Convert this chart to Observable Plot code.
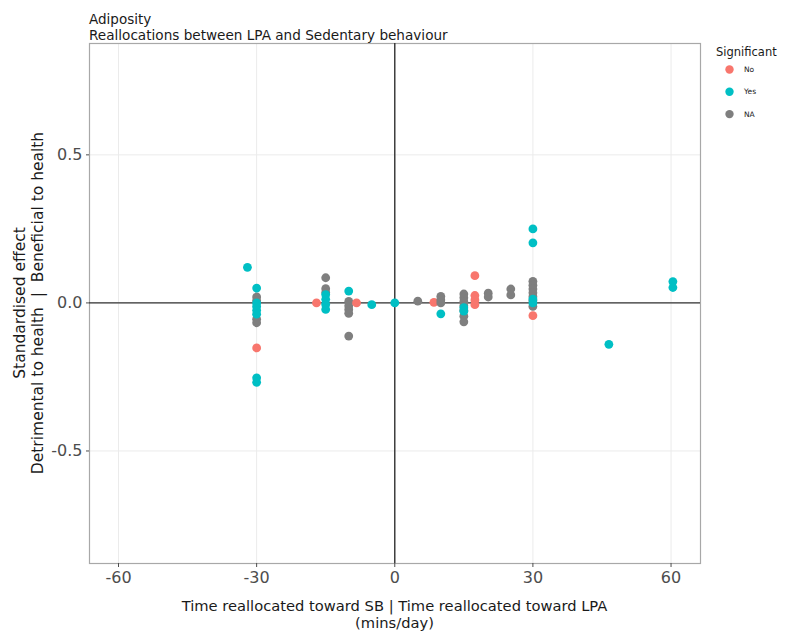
<!DOCTYPE html>
<html>
<head>
<meta charset="utf-8">
<script src="https://cdn.jsdelivr.net/npm/d3@7"></script>
<script src="https://cdn.jsdelivr.net/npm/@observablehq/plot@0.6"></script>
<style>
  html, body { margin: 0; padding: 0; background: #fff; }
  #chart svg { display: block; }
</style>
</head>
<body>
<div id="chart"></div>
<script>
// ---- Data ----
const minutes = [
  -32,
  -30, -30, -30, -30, -30, -30, -30, -30, -30, -30, -30, -30,
  -17,
  -15, -15, -15, -15, -15, -15, -15,
  -10, -10, -10, -10, -10, -10,
  -8.3,
  -5,
  0,
  5,
  8.5,
  10, 10, 10, 10,
  15, 15, 15, 15, 15, 15, 15, 15, 15,
  17.4, 17.4, 17.4, 17.4,
  20.3, 20.3,
  25.2, 25.2,
  30, 30, 30, 30, 30, 30, 30, 30, 30, 30, 30, 30,
  46.5,
  60.4, 60.4
];
const effect = [
  0.12,
  0.02, 0.008, -0.055, -0.067, 0.05, 0.0, -0.012, -0.025, -0.038, -0.152, -0.253, -0.268,
  0.0,
  0.085, 0.048, 0.035, 0.028, 0.012, -0.005, -0.022,
  0.04, 0.005, -0.01, -0.022, -0.035, -0.112,
  0.0,
  -0.006,
  0.0,
  0.006,
  0.002,
  0.022, 0.01, 0.0, -0.037,
  0.03, 0.017, 0.004, -0.01, -0.025, -0.045, -0.064, -0.016, -0.028,
  0.092, 0.025, 0.01, -0.006,
  0.033, 0.02,
  0.047, 0.027,
  0.073, 0.06, 0.047, 0.034, 0.021, 0.008, -0.012, 0.013, 0.0, 0.25, 0.203, -0.043,
  -0.14,
  0.072, 0.052
];
const significant = [
  "Yes",
  "NA", "NA", "NA", "NA", "Yes", "Yes", "Yes", "Yes", "Yes", "No", "Yes", "Yes",
  "No",
  "NA", "NA", "NA", "Yes", "Yes", "Yes", "Yes",
  "Yes", "NA", "NA", "NA", "NA", "NA",
  "No",
  "Yes",
  "Yes",
  "NA",
  "No",
  "NA", "NA", "NA", "Yes",
  "NA", "NA", "NA", "NA", "NA", "NA", "NA", "Yes", "Yes",
  "No", "No", "No", "No",
  "NA", "NA",
  "NA", "NA",
  "NA", "NA", "NA", "NA", "NA", "NA", "NA", "Yes", "Yes", "Yes", "Yes", "No",
  "Yes",
  "Yes", "Yes"
];
const categories = ["No", "Yes", "NA"];
const catColors = ["#F8766D", "#00BFC4", "#7F7F7F"];
const xTicks = [-60, -30, 0, 30, 60];
const yTicks = [-0.5, 0, 0.5];

const titleText = "Adiposity";
const subtitleText = "Reallocations between LPA and Sedentary behaviour";
const xTitle1 = "Time reallocated toward SB | Time reallocated toward LPA";
const xTitle2 = "(mins/day)";
const yTitle1 = "Standardised effect";
const yTitle2 = "Detrimental to health  |  Beneficial to health";
const legendTitle = "Significant";

const data = minutes.map((m, i) => ({x: m, y: effect[i], sig: significant[i]}));

// ---- Layout ----
const W = 786, H = 633;
const mL = 89, mR = 86, mT = 43, mB = 70;
const font = "DejaVu Sans, Verdana, sans-serif";

const chart = Plot.plot({
  width: W,
  height: H,
  marginLeft: mL,
  marginRight: mR,
  marginTop: mT,
  marginBottom: mB,
  style: {fontFamily: font, background: "#fff", overflow: "visible"},
  x: {domain: [-66.3, 66.4]},
  y: {domain: [-0.88, 0.876]},
  color: {domain: categories, range: catColors},
  marks: [
    Plot.gridX(xTicks, {stroke: "#ebebeb", strokeOpacity: 1, strokeWidth: 1}),
    Plot.gridY(yTicks, {stroke: "#ebebeb", strokeOpacity: 1, strokeWidth: 1}),
    Plot.frame({stroke: "#a8a8a8", strokeWidth: 1.2}),
    Plot.ruleX([0], {stroke: "#333", strokeWidth: 1.4}),
    Plot.ruleY([0], {stroke: "#333", strokeWidth: 1.4}),
    Plot.dot(data, {x: "x", y: "y", fill: "sig", r: 4.4, stroke: null}),
    Plot.axisX(xTicks, {
      tickSize: 4, tickPadding: 4, fontSize: 16, fill: "#4d4d4d", stroke: "#4d4d4d",
      label: null, tickFormat: d => String(d).replace("\u2212", "-")
    }),
    Plot.axisY(yTicks, {
      tickSize: 3, tickPadding: 4, fontSize: 16, fill: "#4d4d4d", stroke: "#4d4d4d",
      label: null, tickFormat: d => d.toFixed(1)
    })
  ]
});

document.getElementById("chart").appendChild(chart);

// ---- Titles, axis titles and legend added to the same SVG ----
const svg = d3.select(chart);
const cx = (mL + (W - mR)) / 2;
const cy = (mT + (H - mB)) / 2;

svg.append("text").attr("x", mL).attr("y", 23.5).attr("text-anchor", "start")
  .attr("font-family", font).attr("font-size", 13.5).attr("fill", "#1a1a1a").text(titleText);
svg.append("text").attr("x", mL).attr("y", 39.5).attr("text-anchor", "start")
  .attr("font-family", font).attr("font-size", 13.6).attr("fill", "#1a1a1a").text(subtitleText);

svg.append("text").attr("x", cx).attr("y", 611).attr("text-anchor", "middle")
  .attr("font-family", font).attr("font-size", 14.7).attr("fill", "#1a1a1a").text(xTitle1);
svg.append("text").attr("x", cx).attr("y", 628).attr("text-anchor", "middle")
  .attr("font-family", font).attr("font-size", 14.7).attr("fill", "#1a1a1a").text(xTitle2);

svg.append("text").attr("transform", `translate(25,${cy}) rotate(-90)`).attr("text-anchor", "middle")
  .attr("font-family", font).attr("font-size", 15.5).attr("fill", "#1a1a1a").text(yTitle1);
svg.append("text").attr("transform", `translate(43,${cy}) rotate(-90)`).attr("text-anchor", "middle")
  .attr("font-family", font).attr("font-size", 15.5).attr("fill", "#1a1a1a").text(yTitle2);

const lg = svg.append("g").attr("font-family", font).attr("text-anchor", "start");
lg.append("text").attr("x", 716).attr("y", 56).attr("text-anchor", "start")
  .attr("font-size", 11.5).attr("fill", "#1a1a1a").text(legendTitle);
categories.forEach((c, i) => {
  const yy = 69.5 + i * 22.3;
  lg.append("circle").attr("cx", 729.5).attr("cy", yy).attr("r", 4.2).attr("fill", catColors[i]);
  lg.append("text").attr("x", 744).attr("y", yy + 2.6).attr("text-anchor", "start")
    .attr("font-size", 7.5).attr("fill", "#1a1a1a").text(c);
});
</script>
</body>
</html>
